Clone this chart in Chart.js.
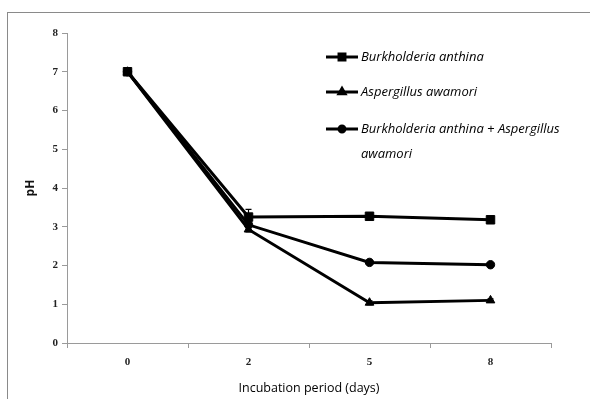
<!DOCTYPE html>
<html>
<head>
<meta charset="utf-8">
<script src="https://cdn.jsdelivr.net/npm/chart.js@4"></script>
<style>
  html, body { margin:0; padding:0; background:#fff; }
  #wrap { position:relative; width:590px; height:399px; overflow:hidden; }
  #frame { position:absolute; left:7px; top:12px; width:620px; height:420px; border:1.5px solid #8a8a8a; }
  canvas { position:absolute; left:0; top:0; }
</style>
</head>
<body>
<div id="wrap">
  <div id="frame"></div>
  <canvas id="chart" width="590" height="399"></canvas>
</div>
<script>
const DAYS = ['0', '2', '5', '8'];
const SERIES_NAMES = ['Burkholderia anthina', 'Aspergillus awamori', 'Burkholderia anthina + Aspergillus awamori'];
const BURK = [7.0, 3.25, 3.27, 3.18];
const ASP = [7.0, 2.93, 1.04, 1.10];
const COMBO = [7.0, 3.05, 2.08, 2.02];
const BURK_ERR = [0.03, 0.2, 0.08, 0.04];
const ASP_ERR = [0.03, 0.06, 0.05, 0.04];
const COMBO_ERR = [0.03, 0.08, 0.05, 0.04];
const Y_TICKS = [0, 1, 2, 3, 4, 5, 6, 7, 8];

const MARKERS = [
  { style:'rect', radius:6 },
  { style:'triangle', radius:5 },
  { style:'circle', radius:4.2 }
];
const ERRORS = [BURK_ERR, ASP_ERR, COMBO_ERR];

// ── error bars ───────────────────────────────────────────────────────────────
const errorBars = {
  id:'errorBars',
  afterDatasetsDraw(chart){
    const ctx = chart.ctx, y = chart.scales.y;
    ctx.save();
    ctx.strokeStyle = '#000';
    ctx.lineWidth = 1.2;
    chart.data.datasets.forEach((ds, i) => {
      const meta = chart.getDatasetMeta(i);
      meta.data.forEach((pt, j) => {
        const v = ds.data[j], e = ERRORS[i][j];
        const top = y.getPixelForValue(v + e), bot = y.getPixelForValue(v - e);
        ctx.beginPath();
        ctx.moveTo(pt.x, top); ctx.lineTo(pt.x, bot);
        ctx.moveTo(pt.x - 3, top); ctx.lineTo(pt.x + 3, top);
        ctx.moveTo(pt.x - 3, bot); ctx.lineTo(pt.x + 3, bot);
        ctx.stroke();
      });
    });
    ctx.restore();
  }
};

// ── legend drawn inside plot ─────────────────────────────────────────────────
const innerLegend = {
  id:'innerLegend',
  afterDraw(chart){
    const ctx = chart.ctx;
    const x0 = 326, x1 = 358, tx = 361, maxW = 212;
    let rowY = [57, 92, 129];
    ctx.save();
    ctx.font = 'italic 13px "Open Sans", sans-serif';
    ctx.textBaseline = 'middle';
    ctx.fillStyle = '#000';
    SERIES_NAMES.forEach((name, i) => {
      const yy = rowY[i];
      ctx.strokeStyle = '#000';
      ctx.lineWidth = 3;
      ctx.beginPath(); ctx.moveTo(x0, yy); ctx.lineTo(x1, yy); ctx.stroke();
      Chart.helpers.drawPoint(ctx, { pointStyle:MARKERS[i].style, radius:MARKERS[i].radius * 0.7, borderWidth:1 }, (x0 + x1) / 2, yy);
      ctx.fill();
      // wrap text
      const words = name.split(' ');
      let line = '', ly = yy;
      words.forEach(w => {
        const test = line ? line + ' ' + w : w;
        if (ctx.measureText(test).width > maxW && line) {
          ctx.fillText(line, tx, ly);
          line = w; ly += 25;
        } else line = test;
      });
      ctx.fillText(line, tx, ly);
    });
    ctx.restore();
  }
};

const series = [BURK, ASP, COMBO];

new Chart(document.getElementById('chart'), {
  type:'line',
  data:{
    labels:DAYS,
    datasets:series.map((d, i) => ({
      label:SERIES_NAMES[i],
      data:d,
      borderColor:'#000',
      backgroundColor:'#000',
      borderWidth:3,
      pointStyle:MARKERS[i].style,
      pointRadius:MARKERS[i].radius,
      pointBorderWidth:1,
      tension:0
    }))
  },
  options:{
    responsive:false,
    animation:false,
    layout:{ padding:{ left:0, right:39, top:33, bottom:0 } },
    plugins:{ legend:{ display:false }, tooltip:{ enabled:false } },
    scales:{
      x:{
        offset:true,
        grid:{ offset:true, drawOnChartArea:false, drawTicks:true, tickLength:5, color:'#9a9a9a' },
        border:{ color:'#9a9a9a', width:1 },
        ticks:{ color:'#222', padding:8, font:{ family:'"Liberation Serif", serif', size:11, weight:'bold' } },
        title:{ display:true, text:'Incubation period (days)', color:'#000', padding:{ top:0, bottom:3 },
                font:{ family:'"Open Sans", sans-serif', size:12.5 } },
        afterFit(s){ s.height = 56; }
      },
      y:{
        min:0, max:8,
        afterBuildTicks(s){ s.ticks = Y_TICKS.map(v => ({ value:v })); },
        grid:{ drawOnChartArea:false, drawTicks:true, tickLength:5, color:'#9a9a9a' },
        border:{ color:'#9a9a9a', width:1 },
        ticks:{ color:'#222', padding:4, font:{ family:'"Liberation Serif", serif', size:11, weight:'bold' } },
        title:{ display:true, text:'pH', color:'#111', padding:{ top:23, bottom:0 },
                font:{ family:'"Open Sans", sans-serif', size:12, weight:'bold' } },
        afterFit(s){ s.width = 67; }
      }
    }
  },
  plugins:[errorBars, innerLegend]
});
</script>
</body>
</html>
